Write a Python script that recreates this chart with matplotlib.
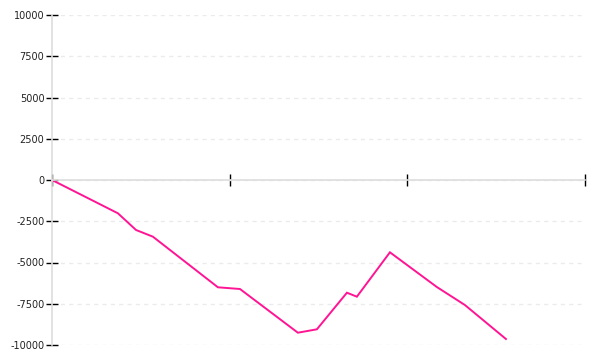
import matplotlib
matplotlib.use("Agg")
import matplotlib.pyplot as plt

# data
x_vals = [0, 3.71, 4.73, 5.68, 9.34, 10.58, 13.84, 14.91, 16.6, 17.16, 19.02, 21.66, 23.24, 25.55]
y_vals = [0, -2018, -3030, -3436, -6503, -6606, -9255, -9048, -6830, -7073, -4382, -6485, -7576, -9636]
y_ticks = [-10000, -7500, -5000, -2500, 0, 2500, 5000, 7500, 10000]
x_ticks = [0, 10, 20, 30]

fig = plt.figure(figsize=(6, 3.6), dpi=100)
ax = fig.add_axes([52/600, 1 - 345/360, (585 - 52)/600, 330/360])

ax.plot(x_vals, y_vals, color="#ff1493", linewidth=1.4, solid_joinstyle="miter")

ax.set_xlim(0, 30)
ax.set_ylim(-10000, 10000)

for s in ["top", "right"]:
    ax.spines[s].set_visible(False)
ax.spines["bottom"].set_position(("data", 0))
ax.spines["bottom"].set_color("#dddddd")
ax.spines["left"].set_color("#dddddd")
ax.spines["bottom"].set_linewidth(1.2)
ax.spines["left"].set_linewidth(1.2)

ax.set_yticks(y_ticks)
ax.set_yticklabels([str(v) for v in y_ticks])
ax.set_xticks(x_ticks)
ax.set_xticklabels([])

ax.tick_params(axis="x", direction="inout", length=9, width=1, color="black")
ax.tick_params(axis="y", direction="inout", length=9, width=1, color="black",
               labelsize=7, labelcolor="#222222", pad=1)

ax.yaxis.grid(True, color="#ebebeb", linestyle=(0, (3, 3)), linewidth=1)
ax.set_axisbelow(True)

fig.savefig("out.png", dpi=100)
